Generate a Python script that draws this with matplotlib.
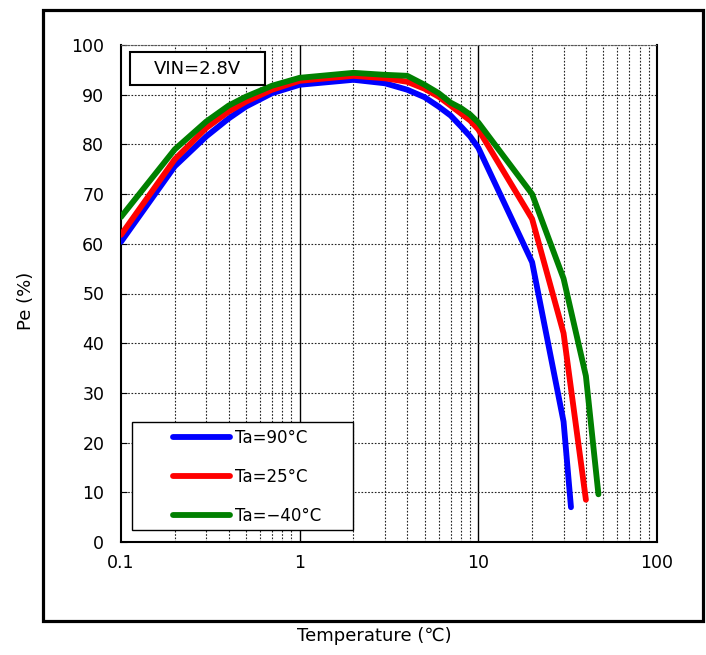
#!/usr/bin/env python3
"""
Efficiency (Pe) versus temperature for three ambient temperatures.
"""
import matplotlib
matplotlib.use("Agg")
import matplotlib.pyplot as plt
from matplotlib.patches import Rectangle
from matplotlib.ticker import FixedLocator, NullFormatter

plt.rcParams['font.family'] = ['DejaVu Sans', 'Noto Sans CJK JP']

# data
x_90 = [0.1, 0.2, 0.3, 0.4, 0.5, 0.7, 1, 2, 3, 4, 5, 6, 7, 8, 9, 10, 20, 30, 33]
pe_90 = [60.4, 75.6, 81.6, 85.2, 87.6, 90.3, 92.0, 93.0, 92.3, 91.0, 89.5,
         87.6, 85.8, 83.6, 81.6, 79.3, 56.3, 24.2, 7.0]

x_25 = [0.1, 0.2, 0.3, 0.4, 0.5, 0.7, 1, 2, 3, 4, 5, 6, 7, 8, 9, 10, 20, 30, 40]
pe_25 = [61.8, 77.0, 83.3, 86.6, 88.6, 91.0, 92.8, 93.8, 93.3, 92.6, 91.2,
         89.6, 87.8, 86.2, 84.8, 83.0, 65.0, 42.0, 8.5]

x_m40 = [0.1, 0.2, 0.3, 0.4, 0.5, 0.7, 1, 2, 3, 4, 5, 6, 7, 8, 9, 10, 20, 30,
         40, 47]
pe_m40 = [65.4, 79.0, 84.6, 87.8, 89.6, 91.8, 93.4, 94.4, 94.0, 93.8, 92.0,
          90.3, 88.4, 87.3, 86.0, 84.4, 70.0, 53.0, 33.4, 9.6]

series = [(x_90, pe_90, 'Ta=90°C', '#0000ff'),
          (x_25, pe_25, 'Ta=25°C', '#ff0000'),
          (x_m40, pe_m40, 'Ta=\u221240°C', '#008000')]

y_ticks = list(range(0, 101, 10))
x_ticks = [0.1, 1, 10, 100]
x_tick_labels = ['0.1', '1', '10', '100']

W, H = 706, 655
fig = plt.figure(figsize=(W / 100, H / 100), dpi=100)

# outer frame
fig.patches.append(Rectangle((43 / W, 1 - 621 / H), 660 / W, 611 / H,
                             transform=fig.transFigure, fill=False,
                             edgecolor='black', linewidth=2.3))

ax = fig.add_axes([121 / W, 1 - 542 / H, 536 / W, 497 / H])

for xs, ys, lab, col in series:
    ax.plot(xs, ys, color=col, linewidth=4.2, label=lab,
            solid_capstyle='round', solid_joinstyle='round', zorder=3)

ax.set_xscale('log')
ax.set_xlim(0.1, 100)
ax.set_ylim(0, 100)
ax.set_yticks(y_ticks)
ax.set_xticks(x_ticks)
ax.set_xticklabels(x_tick_labels)
minor = [m * 10.0 ** d for d in (-1, 0, 1) for m in range(2, 10)]
ax.xaxis.set_minor_locator(FixedLocator(minor))
ax.xaxis.set_minor_formatter(NullFormatter())

# grid: dotted, decades solid
ax.grid(True, which='major', axis='y', color='#222222',
        linestyle=(0, (1.5, 1.5)), linewidth=0.8)
ax.grid(True, which='minor', axis='x', color='#222222',
        linestyle=(0, (1.5, 1.5)), linewidth=0.8)
for d in (1, 10):
    ax.axvline(d, color='black', linewidth=1.0, zorder=1)

ax.tick_params(axis='both', which='major', direction='in', length=4,
               labelsize=12.5, colors='black')
ax.tick_params(axis='x', which='major', pad=9, length=0)
ax.tick_params(axis='y', pad=12)
ax.tick_params(axis='x', which='minor', length=0)

ax.spines['top'].set_linestyle((0, (1.5, 1.5)))
ax.spines['top'].set_color('#555555')
for s in ('left', 'bottom', 'right'):
    ax.spines[s].set_linewidth(1.5)

ax.set_xlabel('Temperature (\u2103)', fontsize=13)
ax.set_ylabel('Pe (%)', fontsize=13)
ax.xaxis.set_label_coords((374 - 121) / 536, -(627 - 542) / 497)
ax.yaxis.set_label_coords((35 - 121) / 536, 0.485)

# VIN box
ax.add_patch(Rectangle((9 / 536, 457 / 497), 135 / 536, 33 / 497,
                       transform=ax.transAxes, facecolor='white',
                       edgecolor='black', linewidth=1.5, zorder=4))
ax.text(76 / 536, 473 / 497, 'VIN=2.8V', transform=ax.transAxes,
        ha='center', va='center', fontsize=13, zorder=5)

# legend box
ax.add_patch(Rectangle((11 / 536, 12 / 497), 221 / 536, 108 / 497,
                       transform=ax.transAxes, facecolor='white',
                       edgecolor='black', linewidth=1.0, zorder=4))
leg = ax.legend(loc='center left', bbox_to_anchor=(52 / 536, 65 / 497),
                frameon=False, fontsize=12, handlelength=3.4,
                handletextpad=0.3, labelspacing=1.25, borderpad=0,
                borderaxespad=0)
leg.set_zorder(6)

fig.savefig('out.png', dpi=100)
